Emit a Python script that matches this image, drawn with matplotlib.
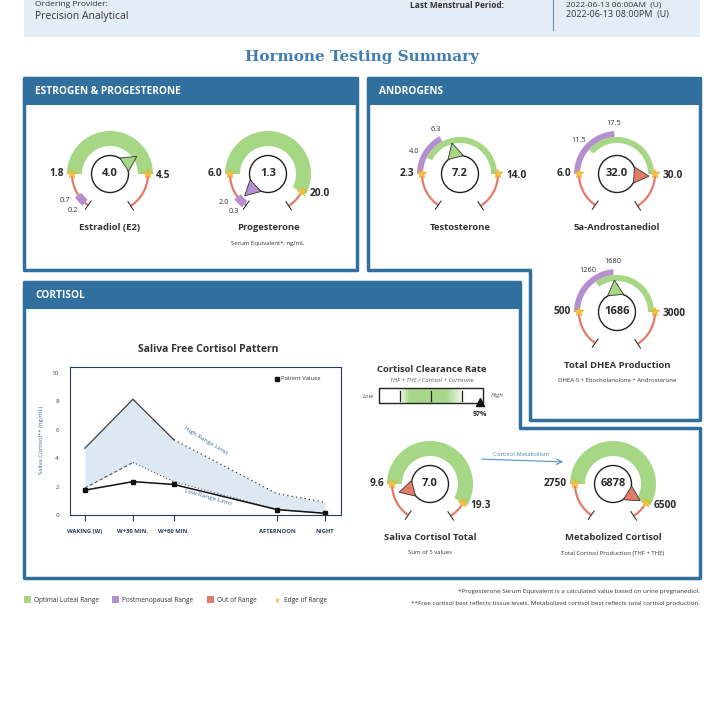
import numpy as np
import matplotlib.pyplot as plt
from matplotlib.patches import Polygon, Circle, Rectangle, FancyBboxPatch

plt.rcParams['font.family'] = ['Open Sans', 'DejaVu Sans']

# colours
BLUE = '#316f9f'
TITLE_BLUE = '#3f7db3'
GREEN = '#a5d784'
PURPLE = '#b68fce'
RED = '#e47a68'
STAR = '#f4c03e'
DARK = '#2a2a2a'

# ---- gauge data ----
names = ['Estradiol (E2)', 'Progesterone', 'Testosterone', '5a-Androstanediol',
         'Total DHEA Production', 'Saliva Cortisol Total', 'Metabolized Cortisol']
subs = ['', 'Serum Equivalent*, ng/mL', '', '', 'DHEA-S + Etiocholanolone + Androsterone',
        'Sum of 5 values', 'Total Cortisol Production (THF + THE)']
values = [4.0, 1.3, 7.2, 32.0, 1686, 7.0, 6878]
value_txt = ['4.0', '1.3', '7.2', '32.0', '1686', '7.0', '6878']
low = [1.8, 6.0, 2.3, 6.0, 500, 9.6, 2750]
high = [4.5, 20.0, 14.0, 30.0, 3000, 19.3, 6500]
low_txt = ['1.8', '6.0', '2.3', '6.0', '500', '9.6', '2750']
high_txt = ['4.5', '20.0', '14.0', '30.0', '3000', '19.3', '6500']
opt_low = [1.8, 6.0, 4.0, 11.5, 1260, 9.6, 2750]
opt_low_txt = ['', '', '4.0', '11.5', '1260', '', '']
pm_low = [0.2, 0.3, 2.3, 6.0, 500, np.nan, np.nan]
pm_high = [0.7, 2.0, 6.3, 17.5, 1680, np.nan, np.nan]
pm_low_txt = ['0.2', '0.3', '', '', '', '', '']
pm_high_txt = ['0.7', '2.0', '6.3', '17.5', '1680', '', '']
end_angle = [0, -28, 0, 0, 0, -30, -30]

# gauge layout (pixel positions)
gx = [110, 268, 460, 617, 617, 430, 613]
gy = [174, 174, 174, 174, 312, 484, 484]

# ---- cortisol pattern data ----
sample_labels = ['WAKING (W)', 'W+30 MIN.', 'W+60 MIN.', 'AFTERNOON', 'NIGHT']
sample_pos = [0, 1, 1.85, 4, 5]
high_limit = [4.7, 8.15, 5.3, 1.5, 0.9]
low_limit = [1.9, 3.7, 2.35, 0.38, 0.12]
patient = [1.75, 2.35, 2.15, 0.38, 0.12]

clearance = 0.97

fig = plt.figure(figsize=(7.2, 7.2), dpi=100)
ax = fig.add_axes([0, 0, 1, 1])
ax.set_xlim(0, 720)
ax.set_ylim(720, 0)
ax.axis('off')

# ---- header ----
ax.add_patch(Rectangle((24, 0), 676, 37, fc='#e3edf6', ec='none', zorder=0))
ax.plot([553, 553], [0, 30], color='#6a8fb3', lw=0.8)
ax.text(35, 1, 'Ordering Provider:', fontsize=6, color='#333', va='top')
ax.text(35, 16, 'Precision Analytical', fontsize=7.5, color='#333', va='center')
ax.text(410, 1, 'Last Menstrual Period:', fontsize=6, color='#333', va='top', fontweight='bold')
ax.text(566, 1, '2022-06-13 06:00AM  (U)', fontsize=6, color='#333', va='top')
ax.text(566, 14, '2022-06-13 08:00PM  (U)', fontsize=6.5, color='#333', va='center')
ax.text(362, 57, 'Hormone Testing Summary', fontsize=11, color=TITLE_BLUE, ha='center',
        va='center', fontweight='bold', family='DejaVu Serif')

# ---- panels ----
def panel(outline, hx0, hx1, hy, title):
    ax.add_patch(Polygon(outline, closed=True, fc='white', ec=BLUE, lw=2.5, zorder=1,
                         joinstyle='round'))
    ax.add_patch(FancyBboxPatch((hx0, hy), hx1 - hx0, 24, boxstyle='round,pad=0,rounding_size=6',
                                fc=BLUE, ec=BLUE, lw=1.5, zorder=1.5))
    ax.add_patch(Rectangle((hx0, hy + 14), hx1 - hx0, 12, fc=BLUE, ec=BLUE, lw=1.5, zorder=1.5))
    ax.text(hx0 + 11, hy + 13, title, color='white', fontsize=7.3, fontweight='bold',
            va='center', zorder=2)

panel([(24, 78), (357, 78), (357, 270), (24, 270)], 24, 357, 78, 'ESTROGEN & PROGESTERONE')
panel([(368, 78), (700, 78), (700, 420), (530, 420), (530, 270), (368, 270)], 368, 700, 78, 'ANDROGENS')
panel([(24, 282), (520, 282), (520, 428), (700, 428), (700, 578), (24, 578)], 24, 520, 282, 'CORTISOL')


# ---- gauges ----
def pt(cx, cy, r, a):
    t = np.radians(a)
    return cx + r * np.cos(t), cy - r * np.sin(t)


def band(cx, cy, r0, r1, a0, a1, color, z=3):
    t = np.linspace(a0, a1, 60)
    xo, yo = pt(cx, cy, r1, t)
    xi, yi = pt(cx, cy, r0, t[::-1])
    ax.add_patch(Polygon(np.column_stack([np.r_[xo, xi], np.r_[yo, yi]]), closed=True,
                         fc=color, ec='none', zorder=z))


def ang(v, i):
    lo, hi, e = low[i], high[i], end_angle[i]
    if v < lo:
        return 180 + 55 * (lo - v) / lo
    if v > hi:
        return e - (57 + e) * min(v - hi, hi) / hi
    return 180 - (180 - e) * (v - lo) / (hi - lo)


for i in range(len(names)):
    cx, cy = gx[i], gy[i]
    e = end_angle[i]
    # out of range arcs
    for a0, a1 in [(180, 235), (e, -57)]:
        t = np.linspace(a0, a1, 40)
        xs, ys = pt(cx, cy, 38, t)
        ax.plot(xs, ys, color=RED, lw=1.6, zorder=3, solid_capstyle='butt')
    for a in [235, -57]:
        xs, ys = pt(cx, cy, np.array([33, 43]), a)
        ax.plot(xs, ys, color='#333', lw=0.8, zorder=4)

    split = not np.isnan(pm_low[i]) and pm_low[i] >= low[i]
    if split:
        band(cx, cy, 37, 43, 180, ang(pm_high[i], i), PURPLE)
        band(cx, cy, 31, 37, ang(opt_low[i], i), e, GREEN)
        for v, s in [(opt_low[i], opt_low_txt[i]), (pm_high[i], pm_high_txt[i])]:
            x, y = pt(cx, cy, 51, ang(v, i))
            ax.text(x, y, s, fontsize=5.3, ha='center', va='center', color='#333', zorder=5)
    else:
        band(cx, cy, 28, 43, 180, e, GREEN)
        if not np.isnan(pm_low[i]):
            band(cx, cy, 34, 42, ang(pm_high[i], i), ang(pm_low[i], i), PURPLE, z=3.5)
            for v, s in [(pm_low[i], pm_low_txt[i]), (pm_high[i], pm_high_txt[i])]:
                x, y = pt(cx, cy, 48, ang(v, i))
                ax.text(x, y, s, fontsize=5.3, ha='right', va='center', color='#333', zorder=5)

    # edge stars and labels
    xl, yl = pt(cx, cy, 38, 180)
    xr, yr = pt(cx, cy, 38, e)
    ax.plot([xl, xr], [yl, yr], ls='none', marker='*', ms=7, color=STAR, mec='#e3a92a',
            mew=0.3, zorder=6)
    ax.text(xl - 8, yl, low_txt[i], fontsize=7.3, fontweight='bold', ha='right', va='center',
            color=DARK, zorder=6)
    ax.text(xr + 8, yr + 2, high_txt[i], fontsize=7.3, fontweight='bold', ha='left', va='center',
            color=DARK, zorder=6)

    # centre circle and pointer
    ax.add_patch(Circle((cx, cy), 18.5, fc='white', ec='#222', lw=1, zorder=5))
    v = values[i]
    if opt_low[i] <= v <= high[i]:
        pc = GREEN
    elif not np.isnan(pm_low[i]) and pm_low[i] <= v <= pm_high[i]:
        pc = PURPLE
    else:
        pc = RED
    a = ang(v, i)
    apex = pt(cx, cy, 32, a)
    bx, by = pt(cx, cy, 17, a)
    t = np.radians(a)
    px, py = -np.sin(t) * 8, -np.cos(t) * 8
    ax.add_patch(Polygon([apex, (bx + px, by + py), (bx - px, by - py)], closed=True,
                         fc=pc, ec='#333', lw=0.6, zorder=6))
    ax.text(cx, cy, value_txt[i], fontsize=8, fontweight='bold', ha='center', va='center',
            color=DARK, zorder=7)

    ax.text(cx, cy + 54, names[i], fontsize=6.8, fontweight='bold', ha='center', va='center',
            color='#333', zorder=6)
    if subs[i]:
        ax.text(cx, cy + 69, subs[i], fontsize=4.3, ha='center', va='center', color='#333', zorder=6)

# ---- cortisol clearance rate ----
ax.text(432, 370, 'Cortisol Clearance Rate', fontsize=6.8, fontweight='bold', ha='center',
        va='center', color='#333')
ax.text(432, 380, 'THF + THE / Cortisol + Cortisone', fontsize=4.3, style='italic', ha='center',
        va='center', color='#555')
xg = np.linspace(0, 1, 200)
alpha = np.minimum(1, xg / 0.15) * np.minimum(1, (1 - xg) / 0.3) * 0.9
grad = np.zeros((1, 200, 4))
grad[..., 0], grad[..., 1], grad[..., 2] = 0.62, 0.83, 0.50
grad[..., 3] = alpha
ax.imshow(grad, extent=(399, 466, 403, 389), aspect='auto', zorder=3, interpolation='bilinear')
ax.add_patch(Rectangle((379, 388), 104, 15, fc='none', ec='#222', lw=1, zorder=4))
for f in [0.2, 0.5, 0.8]:
    ax.plot([379 + 104 * f] * 2, [391, 401], color='#222', lw=0.9, zorder=4)
ax.plot(379 + 104 * clearance, 402, marker='^', ms=6, color='#111', zorder=5)
ax.text(379 + 104 * clearance, 414, f'{clearance:.0%}', fontsize=5, fontweight='bold',
        ha='center', va='center', color='#222')
ax.text(368, 396, 'Low', fontsize=4.6, style='italic', ha='center', va='center', color='#555')
ax.text(497, 396, 'High', fontsize=4.6, style='italic', ha='center', va='center', color='#555')

# arrow between cortisol gauges
ax.annotate('', xy=(566, 462), xytext=(479, 459),
            arrowprops=dict(arrowstyle='->', color='#5b93c6', lw=0.8))
ax.text(521, 454, 'Cortisol Metabolism', fontsize=4.3, ha='center', va='center', color='#4a86b8')

# ---- saliva cortisol chart ----
ax.text(208, 349, 'Saliva Free Cortisol Pattern', fontsize=7.5, fontweight='bold', ha='center',
        va='center', color='#333')
ax.text(41, 440, 'Saliva Cortisol** (ng/mL)', fontsize=4.3, rotation=90, ha='center',
        va='center', color='#3a6fa0')
ax.text(206, 441, 'High Range Limit', fontsize=4.6, rotation=-31, ha='center', va='center',
        color='#3a6fa0', zorder=10)
ax.text(208, 497, 'Low Range Limit', fontsize=4.6, rotation=-16, ha='center', va='center',
        color='#3a6fa0', zorder=10)

cax = fig.add_axes([70 / 720, 1 - 515 / 720, 271 / 720, 148 / 720])
cax.set_facecolor('none')
cax.fill_between(sample_pos, low_limit, high_limit, color='#dce8f2', lw=0)
cax.plot(sample_pos[:3], high_limit[:3], color='#3b3b3b', lw=0.9)
cax.plot(sample_pos[2:], high_limit[2:], color='#3b3b3b', lw=0.9, ls=(0, (1, 2.5)))
cax.plot(sample_pos[:2], low_limit[:2], color='#555', lw=0.8, ls=(0, (3, 2)))
cax.plot(sample_pos[1:], low_limit[1:], color='#555', lw=0.8, ls=(0, (1, 2)))
cax.plot(sample_pos, patient, color='#111', lw=1.1, marker='s', ms=3)
cax.set_xlim(-0.31, 5.33)
cax.set_ylim(0, 10.42)
cax.set_yticks([0, 2, 4, 6, 8, 10])
cax.set_xticks(sample_pos)
cax.set_xticklabels(sample_labels, fontsize=4.2, fontweight='bold', color='#2b3a5e')
cax.tick_params(axis='y', length=0, labelsize=4.5, labelcolor='#444', pad=8)
cax.tick_params(axis='x', length=4, width=0.8, color='#2b3a5e', pad=6)
for s in cax.spines.values():
    s.set_color('#2b3a5e')
    s.set_linewidth(0.8)
ax.plot(277, 379, marker='s', ms=2.8, color='#111', zorder=10)
ax.text(281, 379, 'Patient Values', fontsize=4.3, va='center', color='#333', zorder=10)

# ---- legend and footnotes ----
legend_items = [('Optimal Luteal Range', GREEN, 28), ('Postmenopausal Range', PURPLE, 116),
                ('Out of Range', RED, 211)]
for lab, col, x in legend_items:
    ax.add_patch(Rectangle((x - 4, 596), 7, 7, fc=col, ec='none'))
    ax.text(x + 6, 600, lab, fontsize=4.7, va='center', color='#333')
ax.plot(277, 600, marker='*', ms=5, color=STAR, mec='none')
ax.text(284, 600, 'Edge of Range', fontsize=4.7, va='center', color='#333')
ax.text(700, 591, '*Progesterone Serum Equivalent is a calculated value based on urine pregnanediol.',
        fontsize=4.5, ha='right', va='center', color='#333')
ax.text(700, 603, '**Free cortisol best reflects tissue levels. Metabolized cortisol best reflects '
        'total cortisol production.', fontsize=4.5, ha='right', va='center', color='#333')

fig.savefig('out.png', dpi=100, facecolor='white')
